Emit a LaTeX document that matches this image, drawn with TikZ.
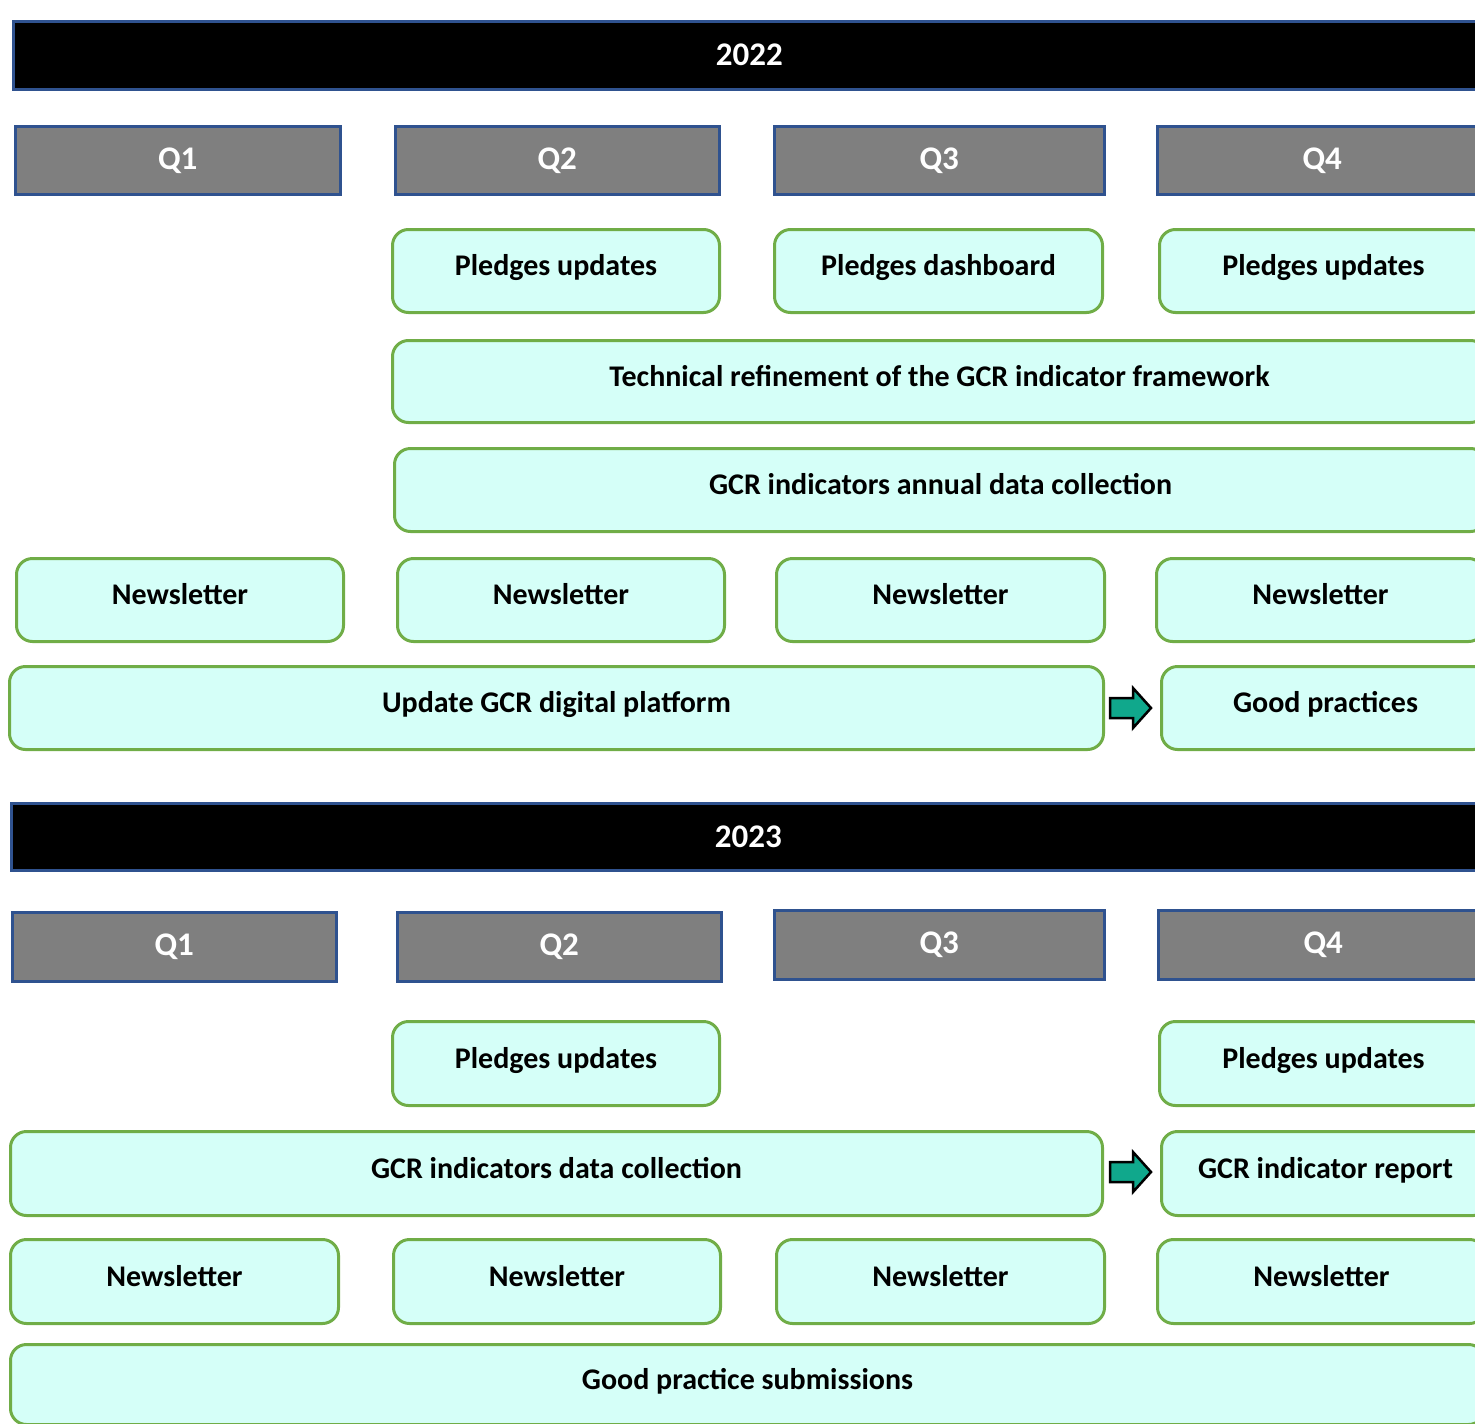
\documentclass[tikz,border=0pt]{standalone}
\usepackage{fontspec}
\setmainfont{Carlito}
\definecolor{hdrblue}{HTML}{2F528F}
\definecolor{qgray}{HTML}{7F7F7F}
\definecolor{bgreen}{HTML}{70AD47}
\definecolor{bfill}{HTML}{D5FFF8}
\definecolor{ateal}{HTML}{10A88C}
\tikzset{
  yearbar/.style={draw=hdrblue, line width=2.5pt, fill=black, text=white, anchor=north west, inner sep=0pt, font=\fontsize{33}{38}\selectfont\bfseries},
  qbox/.style={draw=hdrblue, line width=2.5pt, fill=qgray, text=white, anchor=north west, inner sep=0pt, font=\fontsize{33}{38}\selectfont\bfseries},
  gbox/.style={draw=bgreen, line width=3pt, fill=bfill, rounded corners=16pt, anchor=north west, inner sep=0pt, text height=21pt, text depth=12pt, font=\fontsize{30}{36}\selectfont\bfseries},
  blockarrow/.style={draw=black, line width=2.5pt, fill=ateal, line join=miter},
}
\newcommand{\blockarrowpath}{(0,-10) -- (23,-10) -- (23,-20) -- (41,0) -- (23,20) -- (23,10) -- (0,10) -- cycle}
\begin{document}
\begin{tikzpicture}[x=1pt,y=-1pt]
\clip (0,0) rectangle (1475,1424);
\useasboundingbox (0,0) rectangle (1475,1424);
% ---------- 2022 ----------
\node[yearbar, minimum width=1472pt, minimum height=68pt] (y22) at (12,20) {2022};
\node[qbox, minimum width=325pt, minimum height=68pt] (a-q1) at (14,125) {Q1};
\node[qbox, minimum width=324pt, minimum height=68pt] (a-q2) at (394,125) {Q2};
\node[qbox, minimum width=330pt, minimum height=68pt] (a-q3) at (773,125) {Q3};
\node[qbox, minimum width=330pt, minimum height=68pt] (a-q4) at (1156,125) {Q4};

\node[gbox, minimum width=327pt, minimum height=83pt] (a-p2) at (391,228) {Pledges updates};
\node[gbox, minimum width=328pt, minimum height=83pt] (a-p3) at (773,228) {Pledges dashboard};
\node[gbox, minimum width=328pt, minimum height=83pt] (a-p4) at (1158,228) {Pledges updates};

\node[gbox, minimum width=1094pt, minimum height=82pt] (a-tech) at (391,339) {Technical refinement of the GCR indicator framework};
\node[gbox, minimum width=1092pt, minimum height=83pt] (a-coll) at (393,447) {GCR indicators annual data collection};

\node[gbox, minimum width=327pt, minimum height=83pt] (a-n1) at (15,557) {Newsletter};
\node[gbox, minimum width=327pt, minimum height=83pt] (a-n2) at (396,557) {Newsletter};
\node[gbox, minimum width=328pt, minimum height=83pt] (a-n3) at (775,557) {Newsletter};
\node[gbox, minimum width=328pt, minimum height=83pt] (a-n4) at (1155,557) {Newsletter};

\node[gbox, minimum width=1094pt, minimum height=83pt] (a-plat) at (8,665) {Update GCR digital platform};
\node[gbox, minimum width=328pt, minimum height=83pt] (a-good) at (1160,665) {Good practices};
\coordinate (a-arr) at (1110,708);
\draw[blockarrow, shift={(a-arr)}] \blockarrowpath;

% ---------- 2023 ----------
\node[yearbar, minimum width=1474pt, minimum height=67pt] (y23) at (10,802) {2023};
\node[qbox, minimum width=324pt, minimum height=69pt] (b-q1) at (11,911) {Q1};
\node[qbox, minimum width=324pt, minimum height=69pt] (b-q2) at (396,911) {Q2};
\node[qbox, minimum width=330pt, minimum height=69pt] (b-q3) at (773,909) {Q3};
\node[qbox, minimum width=330pt, minimum height=69pt] (b-q4) at (1157,909) {Q4};

\node[gbox, minimum width=327pt, minimum height=84pt] (b-p2) at (391,1020) {Pledges updates};
\node[gbox, minimum width=328pt, minimum height=84pt] (b-p4) at (1158,1020) {Pledges updates};

\node[gbox, minimum width=1092pt, minimum height=84pt] (b-coll) at (9,1130) {GCR indicators data collection};
\node[gbox, minimum width=328pt, minimum height=84pt] (b-rep) at (1160,1130) {GCR indicator report};
\coordinate (b-arr) at (1110,1172);
\draw[blockarrow, shift={(b-arr)}] \blockarrowpath;

\node[gbox, minimum width=328pt, minimum height=84pt] (b-n1) at (9,1238) {Newsletter};
\node[gbox, minimum width=327pt, minimum height=84pt] (b-n2) at (392,1238) {Newsletter};
\node[gbox, minimum width=328pt, minimum height=84pt] (b-n3) at (775,1238) {Newsletter};
\node[gbox, minimum width=328pt, minimum height=84pt] (b-n4) at (1156,1238) {Newsletter};

\node[gbox, minimum width=1474pt, minimum height=80pt] (b-good) at (9,1343) {Good practice submissions};
\end{tikzpicture}
\end{document}
